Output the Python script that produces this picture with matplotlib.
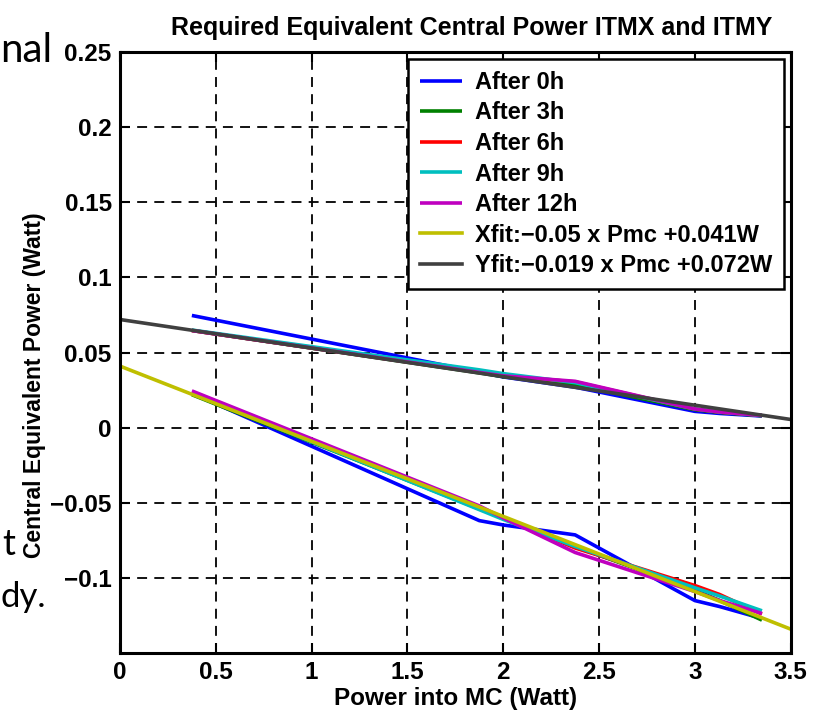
import matplotlib
matplotlib.use("Agg")
import matplotlib.pyplot as plt
import numpy as np

# ---- data ----
power = [0.375, 1.875, 2.0, 2.375, 3.0, 3.13, 3.35]

# upper branch (ITMY)
upper_0h  = [0.0747, 0.0370, 0.0338, 0.0270, 0.0109, 0.0095, 0.0078]
upper_3h  = [0.0647, 0.0365, 0.0340, 0.0285, 0.0120, 0.0102, 0.0080]
upper_6h  = [0.0647, 0.0368, 0.0345, 0.0305, 0.0124, 0.0104, 0.0082]
upper_9h  = [0.0650, 0.0385, 0.0360, 0.0300, 0.0125, 0.0105, 0.0082]
upper_12h = [0.0647, 0.0368, 0.0345, 0.0309, 0.0125, 0.0105, 0.0082]

# lower branch (ITMX)
lower_0h  = [0.0230, -0.0618, -0.0647, -0.0713, -0.1150, -0.1190, -0.1269]
lower_3h  = [0.0220, -0.0540, -0.0600, -0.0790, -0.1080, -0.1150, -0.1280]
lower_6h  = [0.0230, -0.0530, -0.0600, -0.0800, -0.1050, -0.1110, -0.1240]
lower_9h  = [0.0230, -0.0545, -0.0610, -0.0790, -0.1065, -0.1120, -0.1218]
lower_12h = [0.0245, -0.0520, -0.0600, -0.0830, -0.1090, -0.1150, -0.1236]

labels = ["After 0h", "After 3h", "After 6h", "After 9h", "After 12h"]
colors = [(0, 0, 1), (0, 0.5, 0), (1, 0, 0), (0, 0.75, 0.75), (0.75, 0, 0.75)]

fit_x = [0.0, 3.5]
xfit_slope, xfit_icpt = -0.05, 0.041
yfit_slope, yfit_icpt = -0.019, 0.072
xfit_label = "Xfit:\u22120.05 x Pmc +0.041W"
yfit_label = "Yfit:\u22120.019 x Pmc +0.072W"

xticks = [0, 0.5, 1, 1.5, 2, 2.5, 3, 3.5]
yticks = [-0.1, -0.05, 0, 0.05, 0.1, 0.15, 0.2, 0.25]
ytick_labels = ["\u22120.1", "\u22120.05", "0", "0.05", "0.1", "0.15", "0.2", "0.25"]

# ---- figure ----
plt.rcParams['font.family'] = ['Liberation Sans', 'DejaVu Sans']
plt.rcParams['font.weight'] = 'bold'
fig = plt.figure(figsize=(8.17, 7.18), dpi=100)
ax = fig.add_axes([0.1469, 0.0909, 0.8209, 0.8367])

# slide background text fragments
slide_font = dict(family=['Lato', 'DejaVu Sans'], fontweight='normal')
fig.text(0.0, 0.930, "nal", fontsize=29, va='center', ha='left', **slide_font)
fig.text(0.003, 0.242, "t", fontsize=26, va='center', ha='left', **slide_font)
fig.text(0.0, 0.168, "dy.", fontsize=25, va='center', ha='left', **slide_font)

lw = 2.6
uppers = [upper_0h, upper_3h, upper_6h, upper_9h, upper_12h]
lowers = [lower_0h, lower_3h, lower_6h, lower_9h, lower_12h]
for up, lo, c, lab in zip(uppers, lowers, colors, labels):
    ax.plot(power, lo, color=c, lw=lw, label=lab, solid_capstyle='butt')
    ax.plot(power, up, color=c, lw=lw, solid_capstyle='butt')

fx = np.array(fit_x)
ax.plot(fx, xfit_slope * fx + xfit_icpt, color=(0.75, 0.75, 0), lw=lw, label=xfit_label)
ax.plot(fx, yfit_slope * fx + yfit_icpt, color=(0.25, 0.25, 0.25), lw=lw, label=yfit_label)

ax.set_xlim(0, 3.5)
ax.set_ylim(-0.1497, 0.25)
ax.set_xticks(xticks)
ax.set_xticklabels([str(t) for t in xticks])
ax.set_yticks(yticks)
ax.set_yticklabels(ytick_labels)
ax.tick_params(direction='in', length=7, width=1.5, top=True, right=True,
               labelsize=17.5, pad=6)
for s in ax.spines.values():
    s.set_linewidth(2.2)
ax.grid(True, color='black', linestyle=(0, (5.5, 4)), linewidth=1.3)

ax.set_title("Required Equivalent Central Power ITMX and ITMY", fontsize=18,
             fontweight='bold', x=0.525, pad=12)
ax.set_xlabel("Power into MC (Watt)", fontsize=17.5, fontweight='bold', labelpad=2)
ax.set_ylabel("Central Equivalent Power (Watt)", fontsize=16.5, fontweight='bold')
ax.yaxis.set_label_coords(-0.110, 0.445)

leg = ax.legend(loc='upper right', fontsize=17, frameon=True, fancybox=False,
                edgecolor='black', framealpha=1, handlelength=1.75,
                handletextpad=0.55, labelspacing=0.32, borderpad=0.5,
                borderaxespad=0.3)
leg.get_frame().set_linewidth(1.8)
for t in leg.get_texts():
    t.set_fontweight('bold')

fig.savefig("out.png", dpi=100)
